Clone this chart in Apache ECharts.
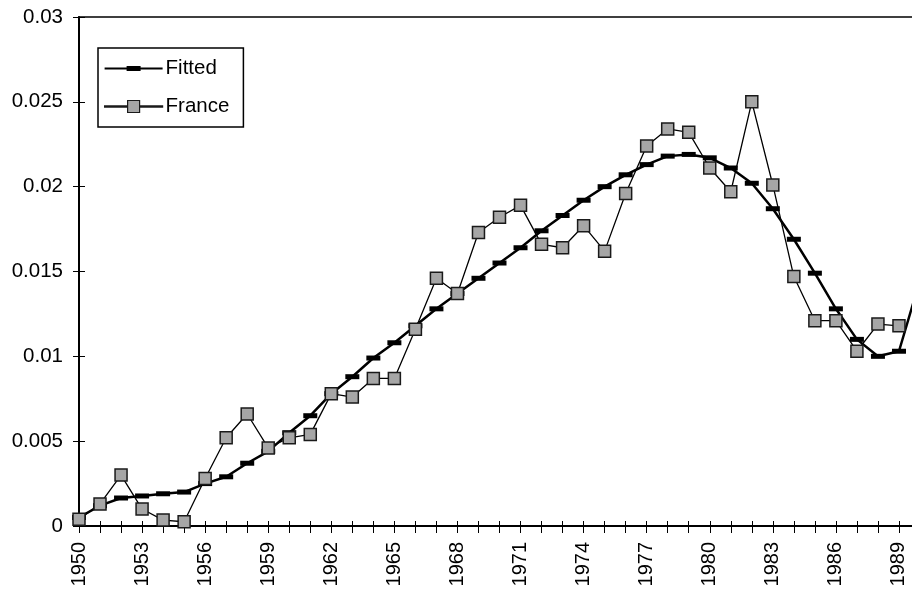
<!DOCTYPE html>
<html>
<head>
<meta charset="utf-8">
<script src="https://cdn.jsdelivr.net/npm/echarts@6/dist/echarts.min.js"></script>
<style>
  html, body { margin: 0; padding: 0; background: #fff; }
  #chart { width: 912px; height: 593px; }
</style>
</head>
<body>
<div id="chart"></div>
<script>
// Years on the category axis
const years = [];
for (let y = 1950; y <= 1990; y++) years.push(String(y));

// Fitted curve
const fitted = [
  0.0005, 0.0012, 0.00165, 0.00177, 0.0019, 0.0020, 0.0025, 0.0029, 0.0037, 0.0044,
  0.0055, 0.0065, 0.0078, 0.0088, 0.0099, 0.0108, 0.0118, 0.0128, 0.0137, 0.0146,
  0.0155, 0.0164, 0.0174, 0.0183, 0.0192, 0.0200, 0.0207, 0.0213, 0.0218, 0.0219,
  0.0217, 0.0211, 0.0202, 0.0187, 0.0169, 0.0149, 0.0128, 0.0110, 0.0100, 0.0103,
  0.0145
];

// Observed series for France
const france = [
  0.0004, 0.0013, 0.0030, 0.0010, 0.00035, 0.00025, 0.0028, 0.0052, 0.0066, 0.0046,
  0.0052, 0.0054, 0.0078, 0.0076, 0.0087, 0.0087, 0.0116, 0.0146, 0.0137, 0.0173,
  0.0182, 0.0189, 0.0166, 0.0164, 0.0177, 0.0162, 0.0196, 0.0224, 0.0234, 0.0232,
  0.0211, 0.0197, 0.0250, 0.0201, 0.0147, 0.0121, 0.0121, 0.0103, 0.0119, 0.0118,
  null
];

const FONT = '"Liberation Sans", Arial, Helvetica, sans-serif';

// Legend keys: a line with the series marker in the middle, laid out on a 58 x 12 box.
// Two hair-thin corner specks pin the Fitted path bounds to the full box so it is not stretched.
const CORNERS = 'M0,0h0.01v0.01h-0.01ZM57.99,11.99h0.01v0.01h-0.01Z';
const ICON_FITTED = 'path://' + CORNERS + 'M0,5H22V3.5H36V5H58V7H36V8.5H22V7H0Z';
const ICON_FRANCE = 'path://M0,5.4H23V0H35V5.4H58V6.6H35V12H23V6.6H0Z';

const chart = echarts.init(document.getElementById('chart'), null, { renderer: 'canvas' });

// The plot runs on past the right edge of the canvas (1990 sits just outside)
const grid = {
  left: 79, top: 17, width: 841, height: 509,
  outerBoundsMode: 'none',
  containLabel: false,
  show: true, borderColor: '#000', borderWidth: 1.5, backgroundColor: 'transparent'
};

chart.setOption({
  animation: false,
  backgroundColor: '#fff',
  grid: grid,
  legend: {
    left: 98,
    top: 48,
    orient: 'vertical',
    backgroundColor: '#fff',
    borderColor: '#000',
    borderWidth: 1.5,
    padding: [10, 14, 10, 6],
    itemWidth: 58,
    itemHeight: 12,
    itemGap: 17,
    symbolKeepAspect: false,
    textStyle: { fontFamily: FONT, fontSize: 20.5, color: '#000', padding: [0, 0, 0, -2] },
    data: [
      { name: 'Fitted', icon: ICON_FITTED, itemStyle: { color: '#000', borderWidth: 0 } },
      { name: 'France', icon: ICON_FRANCE, itemStyle: { color: '#a6a6a6', borderColor: '#1a1a1a', borderWidth: 1.2 } }
    ]
  },
  xAxis: [
    {
      type: 'category',
      data: years,
      boundaryGap: false,
      axisLine: { lineStyle: { color: '#000', width: 2 } },
      axisTick: { interval: 0, length: 7, lineStyle: { color: '#000', width: 1 } },
      axisLabel: { interval: 2, rotate: 90, margin: 16, fontFamily: FONT, fontSize: 20, color: '#000' },
      splitLine: { show: false }
    },
    {
      type: 'category',
      data: years,
      position: 'bottom',
      boundaryGap: false,
      axisLine: { show: false },
      axisTick: { interval: 0, inside: true, length: 5, lineStyle: { color: '#000', width: 1 } },
      axisLabel: { show: false },
      splitLine: { show: false }
    }
  ],
  yAxis: [
    {
      type: 'value',
      min: 0,
      max: 0.03,
      interval: 0.005,
      axisLine: { show: true, lineStyle: { color: '#000', width: 2 } },
      axisTick: { show: true, length: 6, lineStyle: { color: '#000', width: 1 } },
      axisLabel: { margin: 16, fontFamily: FONT, fontSize: 20.5, color: '#000' },
      splitLine: { show: false }
    },
    {
      type: 'value',
      position: 'left',
      min: 0,
      max: 0.03,
      interval: 0.005,
      axisLine: { show: false },
      axisTick: { show: true, inside: true, length: 6, lineStyle: { color: '#000', width: 1 } },
      axisLabel: { show: false },
      splitLine: { show: false }
    }
  ],
  series: [
    {
      name: 'Fitted',
      type: 'line',
      data: fitted,
      symbol: 'rect',
      symbolSize: [14, 5],
      lineStyle: { color: '#000', width: 2.5 },
      itemStyle: { color: '#000', borderWidth: 0 },
      z: 2
    },
    {
      name: 'France',
      type: 'line',
      data: france,
      symbol: 'rect',
      symbolSize: 12,
      lineStyle: { color: '#000', width: 1.3 },
      itemStyle: { color: '#a6a6a6', borderColor: '#1a1a1a', borderWidth: 1.5 },
      z: 3
    }
  ]
});
</script>
</body>
</html>
